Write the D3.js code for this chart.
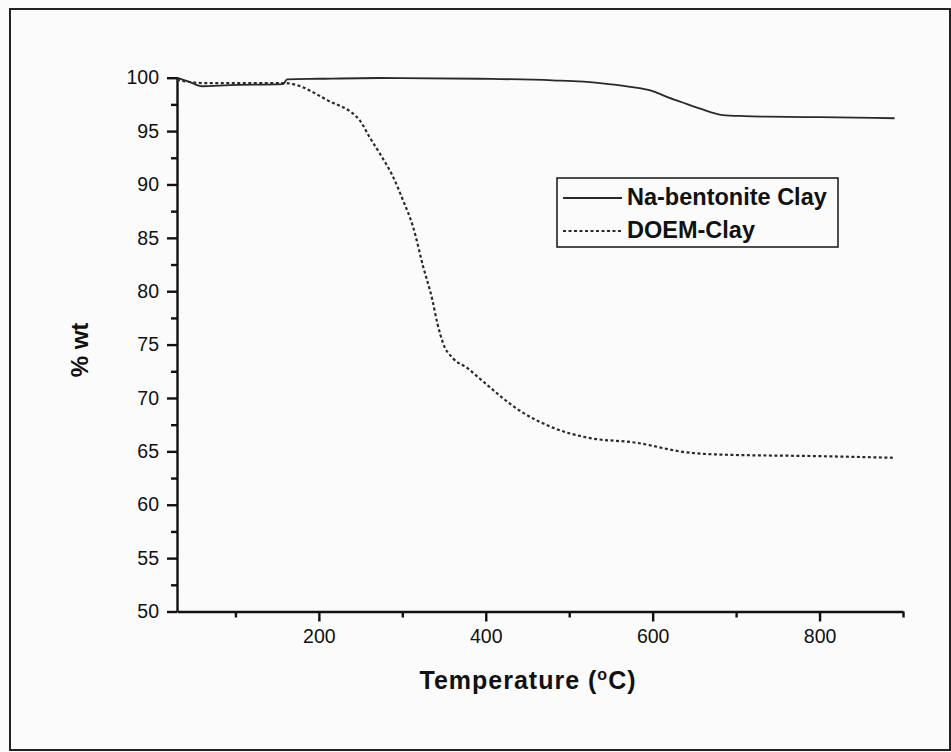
<!DOCTYPE html>
<html>
<head>
<meta charset="utf-8">
<script src="https://cdn.jsdelivr.net/npm/d3@7"></script>
<style>
    body { margin: 0; background: #fbfbfb; }
    text { font-family: "Liberation Sans", Arial, sans-serif; fill: #111; }
    .axis path, .axis line { stroke: #111; stroke-width: 2.4; }
    .axis text { font-size: 19.5px; }
</style>
</head>
<body>
<div id="chart"></div>
<script>
// Na-bentonite Clay
const naTemp = [30, 45, 60, 93, 157, 162, 200, 273, 393, 480, 537, 573, 600, 617, 635, 657, 684, 710, 737, 800, 890];
const naWt = [100, 99.6, 99.2, 99.3, 99.4, 99.85, 99.9, 99.97, 99.9, 99.75, 99.5, 99.15, 98.75, 98.2, 97.7, 97.1, 96.5, 96.4, 96.35, 96.3, 96.2];

// DOEM-Clay
const doemTemp = [30, 61, 100, 160, 169, 210, 249, 261, 273, 289, 301, 313, 325, 336, 342, 349, 361, 378, 393, 441, 481, 521, 581, 641, 681, 800, 888];
const doemWt = [99.8, 99.5, 99.5, 99.5, 99.4, 97.9, 96.0, 94.4, 92.9, 90.7, 88.5, 86.0, 82.3, 79.2, 77.0, 75.1, 73.7, 72.8, 71.8, 68.8, 67.2, 66.3, 65.8, 64.9, 64.7, 64.55, 64.4];

const xMajor = [200, 400, 600, 800];
const xMinor = [100, 300, 500, 700, 900];
const yMajor = [50, 55, 60, 65, 70, 75, 80, 85, 90, 95, 100];
const yMinor = [52.5, 57.5, 62.5, 67.5, 72.5, 77.5, 82.5, 87.5, 92.5, 97.5];

const seriesNames = ["Na-bentonite Clay", "DOEM-Clay"];

function drawChart() {
    const w = 951;
    const h = 752;

    const left = 177, right = 903, top = 77.7, bottom = 611.5;

    const svg = d3.select("#chart")
        .append("svg")
        .attr("width", w)
        .attr("height", h);

    // outer frame
    svg.append("rect")
        .attr("x", 10)
        .attr("y", 9)
        .attr("width", 940)
        .attr("height", 741)
        .attr("fill", "none")
        .attr("stroke", "#222")
        .attr("stroke-width", 2);

    const xScale = d3.scaleLinear().domain([30, 900]).range([left, right]);
    const yScale = d3.scaleLinear().domain([50, 100]).range([bottom, top]);

    // minor ticks first
    svg.append("g")
        .attr("class", "axis")
        .attr("transform", "translate(0," + bottom + ")")
        .call(d3.axisBottom(xScale).tickValues(xMinor).tickSize(6).tickFormat(""))
        .select(".domain").remove();

    svg.append("g")
        .attr("class", "axis")
        .attr("transform", "translate(" + left + ",0)")
        .call(d3.axisLeft(yScale).tickValues(yMinor).tickSize(6).tickFormat(""))
        .select(".domain").remove();

    svg.append("g")
        .attr("class", "axis")
        .attr("transform", "translate(0," + bottom + ")")
        .call(d3.axisBottom(xScale).tickValues(xMajor).tickSize(10).tickSizeOuter(0).tickPadding(8));

    svg.append("g")
        .attr("class", "axis")
        .attr("transform", "translate(" + left + ",0)")
        .call(d3.axisLeft(yScale).tickValues(yMajor).tickSize(10).tickSizeOuter(0).tickPadding(8));

    const line = d3.line()
        .x(function (d) { return xScale(d[0]); })
        .y(function (d) { return yScale(d[1]); })
        .curve(d3.curveMonotoneX);

    svg.append("path")
        .datum(d3.zip(naTemp, naWt))
        .attr("d", line)
        .attr("fill", "none")
        .attr("stroke", "#2a2a2a")
        .attr("stroke-width", 1.8);

    svg.append("path")
        .datum(d3.zip(doemTemp, doemWt))
        .attr("d", line)
        .attr("fill", "none")
        .attr("stroke", "#2a2a2a")
        .attr("stroke-width", 2.2)
        .attr("stroke-dasharray", "3,2.5");

    // legend
    const legend = svg.append("g");
    legend.append("rect")
        .attr("x", 557)
        .attr("y", 178)
        .attr("width", 281)
        .attr("height", 69)
        .attr("fill", "none")
        .attr("stroke", "#222")
        .attr("stroke-width", 1.6);

    legend.append("line")
        .attr("x1", 563).attr("x2", 622)
        .attr("y1", 198).attr("y2", 198)
        .attr("stroke", "#2a2a2a")
        .attr("stroke-width", 1.8);

    legend.append("line")
        .attr("x1", 563).attr("x2", 622)
        .attr("y1", 231).attr("y2", 231)
        .attr("stroke", "#2a2a2a")
        .attr("stroke-width", 2)
        .attr("stroke-dasharray", "3,2.5");

    legend.selectAll(".legendText")
        .data(seriesNames)
        .enter()
        .append("text")
        .attr("x", 627)
        .attr("y", function (d, i) { return 205 + i * 33; })
        .style("font-size", "23.5px")
        .style("font-weight", "bold")
        .text(function (d) { return d; });

    // X axis label
    const xt = svg.append("text")
        .attr("text-anchor", "middle")
        .attr("x", 528)
        .attr("y", 689)
        .style("font-size", "25px")
        .style("letter-spacing", "1px")
        .style("font-weight", "bold");
    xt.append("tspan").text("Temperature (");
    xt.append("tspan").attr("dy", -9).style("font-size", "16px").text("o");
    xt.append("tspan").attr("dy", 9).text("C)");

    // Y axis label
    svg.append("text")
        .attr("text-anchor", "middle")
        .attr("transform", "translate(88,350) rotate(-90)")
        .style("font-size", "24px")
        .style("font-weight", "bold")
        .text("% wt");
}

window.onload = drawChart;
</script>
</body>
</html>
